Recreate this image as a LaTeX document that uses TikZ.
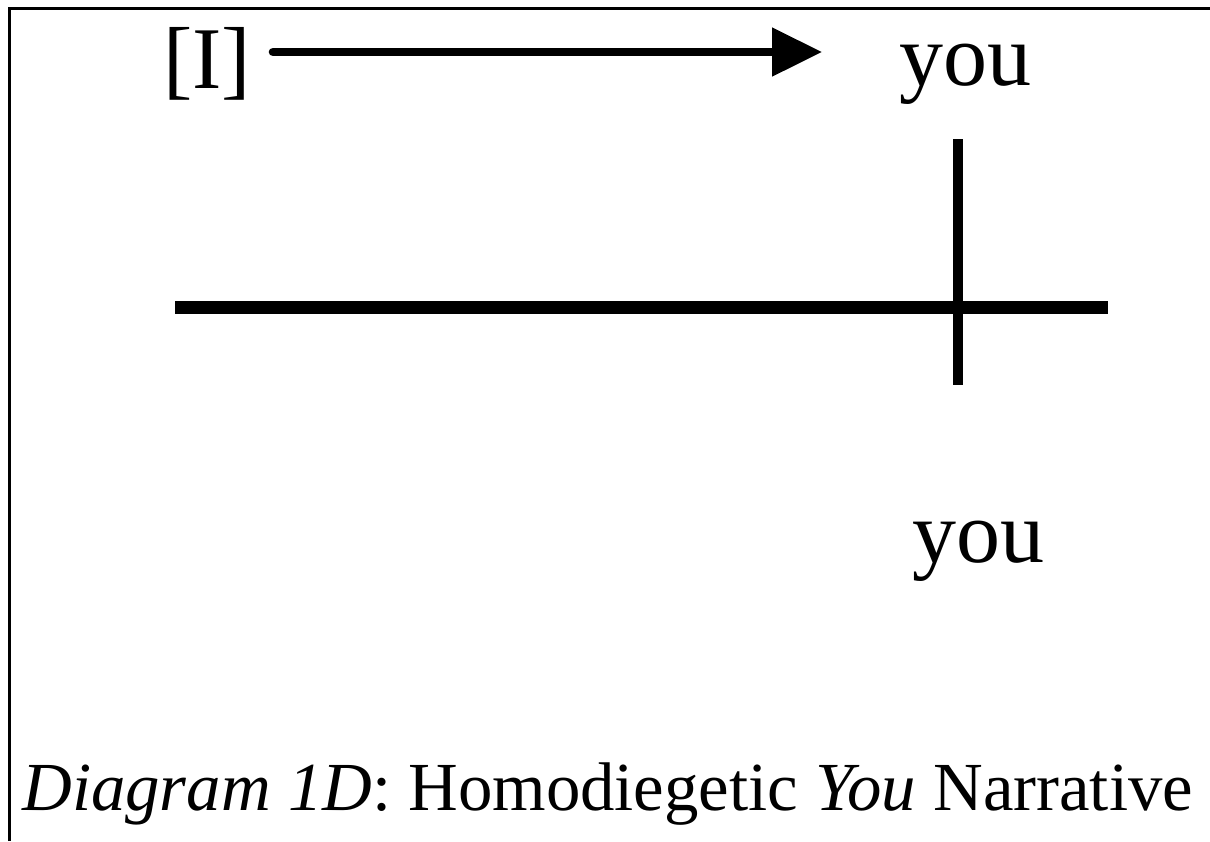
\documentclass[tikz,border=0pt]{standalone}
\usepackage{fontspec}
\setmainfont{Liberation Serif}
\usetikzlibrary{arrows.meta}

\begin{document}
\begin{tikzpicture}[x=0.5pt,y=-0.5pt,
    word/.style={font=\fontsize{44}{44}\selectfont, inner sep=0pt, anchor=base},
    caption/.style={font=\fontsize{34.4}{34.4}\selectfont, inner sep=0pt, anchor=base west},
    timeline/.style={line width=6.5pt},
    crossbar/.style={line width=5pt},
    address/.style={line width=4.3pt, line cap=round, -{Triangle[length=25pt,width=23.5pt]}}]
    % --- 1. canvas and frame ---
    \useasboundingbox (0,0) rectangle (1210,841);
    \draw[line width=1.5pt] (9,841) -- (9,8) -- (1210,8);

    % --- 2. narrator, addressee ---
    \node[word] (I) at (207,88) {[I]};
    \node[word] (youTop) at (965,85) {you};
    \node[word] (youBottom) at (978,562) {you};

    % --- 3. arrow I -> you ---
    \coordinate (A) at (273,52);
    \coordinate (B) at (822,52);
    \draw[address] (A) -- (B);

    % --- 4. story line and the cut ---
    \coordinate (L) at (175,307);
    \coordinate (R) at (1108,307);
    \coordinate (T) at (958,139);
    \coordinate (U) at (958,385);
    \draw[timeline] (L) -- (R);
    \draw[crossbar] (T) -- (U);

    % --- 5. caption ---
    \node[caption] (cap) at (22,810) {\textit{Diagram 1D}: Homodiegetic \textit{You} Narrative};
\end{tikzpicture}
\end{document}
